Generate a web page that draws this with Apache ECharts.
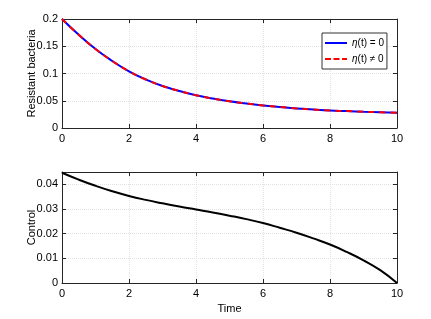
<!DOCTYPE html>
<html><head><meta charset="utf-8">
<script src="https://cdn.jsdelivr.net/npm/echarts@6/dist/echarts.min.js"></script>
<style>html,body{margin:0;padding:0;background:#fff}#c{width:431px;height:319px}</style>
</head><body><div id="c"></div>
<script>
const time = [0,0.5,1,1.5,2,2.5,3,3.5,4,4.5,5,5.5,6,6.5,7,7.5,8,8.5,9,9.5,10];
const bacteriaEta0 = [0.2,0.171,0.145,0.123,0.104,0.089,0.077,0.068,0.060,0.054,0.049,0.045,0.0415,0.0385,0.036,0.034,0.032,0.031,0.0298,0.0289,0.028];
const bacteriaEtaNon0 = [0.2,0.171,0.145,0.123,0.104,0.089,0.077,0.068,0.060,0.054,0.049,0.045,0.0415,0.0385,0.036,0.034,0.032,0.031,0.0298,0.0289,0.028];
const control = [0.0447,0.0419,0.0394,0.0372,0.0353,0.0337,0.0323,0.0310,0.0298,0.0286,0.0273,0.0259,0.0243,0.0224,0.0204,0.0181,0.0156,0.0126,0.0092,0.0052,0];
const xTicks = [0,2,4,6,8,10];
const topYTicks = [0,0.05,0.1,0.15,0.2];
const botYTicks = [0,0.01,0.02,0.03,0.04];
const legendNames = ['η(t) = 0','η(t) ≠ 0'];

const FONT = '"Liberation Sans", Arial, sans-serif';
const axisCol = '#262626';
const pair = (a,b)=>a.map((v,i)=>[v,b[i]]);
function xAx(grid, pos, labels, name){
  return {type:'value', gridIndex:grid, position:pos, min:xTicks[0], max:xTicks[xTicks.length-1], interval:xTicks[1]-xTicks[0],
    axisLine:{show:true,onZero:false,lineStyle:{color:axisCol,width:1}},
    axisTick:{show:true,inside:true,length:4,lineStyle:{color:axisCol}},
    axisLabel:{show:labels,color:'#000',fontSize:11,fontFamily:FONT,margin:5},
    splitLine:{show:pos==='bottom',lineStyle:{color:'#e2e2e2',type:'dotted',width:1}},
    name:name||'', nameLocation:'middle', nameGap:20, nameMoveOverlap:false, nameTextStyle:{color:'#000',fontSize:11,fontFamily:FONT}};
}
function yAx(grid, pos, ticks, max, labels, name){
  return {type:'value', gridIndex:grid, position:pos, min:ticks[0], max:max, interval:ticks[1]-ticks[0],
    axisLine:{show:true,onZero:false,lineStyle:{color:axisCol,width:1}},
    axisTick:{show:true,inside:true,length:4,lineStyle:{color:axisCol}},
    axisLabel:{show:labels,color:'#000',fontSize:11,fontFamily:FONT,margin:4,showMaxLabel: max===ticks[ticks.length-1]},
    splitLine:{show:pos==='left',lineStyle:{color:'#e2e2e2',type:'dotted',width:1}},
    name:name||'', nameLocation:'middle', nameGap:25, nameMoveOverlap:false, nameTextStyle:{color:'#000',fontSize:11,fontFamily:FONT}};
}
const chart = echarts.init(document.getElementById('c'), null, {renderer:'canvas'});
chart.setOption({
  animation:false,
  backgroundColor:'#fff',
  grid:[{left:62,top:19,width:335,height:109,containLabel:false},
        {left:62,top:172,width:335,height:111,containLabel:false}],
  xAxis:[xAx(0,'bottom',true), xAx(0,'top',false), xAx(1,'bottom',true,'Time'), xAx(1,'top',false)],
  yAxis:[yAx(0,'left',topYTicks,0.2,true,'Resistant bacteria'), yAx(0,'right',topYTicks,0.2,false),
         yAx(1,'left',botYTicks,0.045,true,'Control'), yAx(1,'right',botYTicks,0.045,false)],
  legend:{data:[
      {name:legendNames[0], icon:'path://M0,0h22v2h-22z', itemStyle:{color:'#0000ff'}},
      {name:legendNames[1], icon:'path://M0,0h6v2h-6zM8.5,0h6v2h-6zM17,0h5v2h-5z', itemStyle:{color:'#ff0000'}}],
    orient:'vertical', left:322, top:33, itemGap:6, itemWidth:22, itemHeight:2,
    padding:[5,3,5,3], borderColor:'#333', borderWidth:1, backgroundColor:'#fff',
    formatter: n => n.replace('η','{i|η}'),
    textStyle:{fontSize:10,fontFamily:FONT,color:'#000',rich:{i:{fontStyle:'italic',fontSize:10,fontFamily:FONT}}}},
  series:[
    {name:legendNames[0], type:'line', xAxisIndex:0, yAxisIndex:0, data:pair(time,bacteriaEta0), smooth:0.5, symbol:'none',
     lineStyle:{color:'#0000ff',width:2}, itemStyle:{color:'#0000ff'}},
    {name:legendNames[1], type:'line', xAxisIndex:0, yAxisIndex:0, data:pair(time,bacteriaEtaNon0), smooth:0.5, symbol:'none',
     lineStyle:{color:'#ff0000',width:2,type:[6,5]}, itemStyle:{color:'#ff0000'}},
    {name:'control', type:'line', xAxisIndex:2, yAxisIndex:2, data:pair(time,control), smooth:0.5, symbol:'none',
     lineStyle:{color:'#000',width:2}, itemStyle:{color:'#000'}}
  ]
});
</script></body></html>
